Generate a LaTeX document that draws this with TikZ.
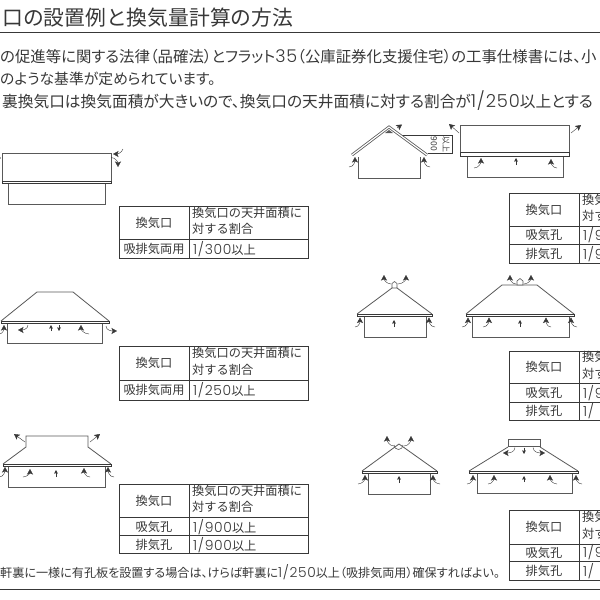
\documentclass[tikz,border=0pt]{standalone}
\usepackage{fontspec}
\setmainfont{Noto Sans CJK JP}
\newfontfamily\tightcjk{Noto Sans CJK JP}[RawFeature=+palt]
\newfontfamily\dgfont{Poppins Light}[Scale=1.14,LetterSpace=5]
\newcommand{\dg}[1]{{\dgfont #1}}
\usetikzlibrary{arrows.meta}
\definecolor{ink}{gray}{0.22}
\definecolor{lin}{gray}{0.35}
\tikzset{
 x=1pt,y=-1pt,
 wall/.style={draw=lin,line width=0.8pt},
 band/.style={draw=ink,line width=0.8pt,fill=white},
 bigflow/.style={draw=ink,line width=0.4pt,-{Stealth[length=5.5pt,width=6pt,inset=1.2pt]}},
 smallflow/.style={draw=ink,line width=0.6pt,-{Stealth[length=3.6pt,width=3.6pt,inset=0.5pt]}},
 cellline/.style={draw=ink,line width=0.8pt},
 cell/.style={inner sep=0,text=ink,font=\fontsize{12.2}{14}\selectfont},
 cellL/.style={cell,anchor=west,align=left},
 body/.style={inner sep=0,anchor=base west,text=ink},
}
\newcommand{\hdr}[4]{%
  \node[cell] at ({(#1+#2)/2},{(#3+#4)/2}) {換気口};
  \node[cellL] at ({#2+3},{(#3+#4)/2}) {\begin{tabular}{@{}l@{}}換気口の天井面積に\\[2pt]対する割合\end{tabular}};
}
\newcommand{\hdrcut}[4]{%
  \node[cell] at ({(#1+#2)/2},{(#3+#4)/2}) {換気口};
  \node[cellL] at ({#2+3},{(#3+#4)/2}) {\begin{tabular}{@{}l@{}}換気\\[2pt]対す\end{tabular}};
}
\begin{document}
\begin{tikzpicture}
\useasboundingbox (0,0) rectangle (600,600);
\clip (0,0) rectangle (600,600);
\fill[white] (0,0) rectangle (600,600);
% heading
\node[inner sep=0,anchor=base west,text=ink,font=\fontsize{20.8}{24}\selectfont] (title) at (2,25) {口の設置例と換気量計算の方法};
\draw[draw=ink,line width=0.8pt] (0,32) -- (600,32);
\node[body,font=\tightcjk\fontsize{15.4}{15}\selectfont] (p1) at (0,62) {の促進等に関する法律（品確法）とフラット\dg{35}（公庫証券化支援住宅）の工事仕様書には、小};
\node[body,font=\tightcjk\fontsize{14.8}{15}\selectfont] (p2) at (0,84) {のような基準が定められています。};
\node[body,font=\tightcjk\fontsize{15.7}{15}\selectfont] (p3) at (2,107) {裏換気口は換気面積が大きいので、換気口の天井面積に対する割合が\dg{1/250}以上とする};
\node[body,font=\tightcjk\fontsize{12.1}{13}\selectfont] (foot) at (0,577.5) {軒裏に一様に有孔板を設置する場合は、けらば軒裏に\dg{1/250}以上（吸排気両用）確保すればよい。};
\draw[draw=ink,line width=0.8pt] (0,589) -- (600,589);

% ---- diagram 1
\draw[wall] (8.5,183) rectangle (105,204);
\draw[wall] (2,153) rectangle (111,181);
\draw[band] (2,181) rectangle (111,183.5);
\draw[bigflow] (123,149) to[out=-110,in=0] (113,154);
\draw[bigflow] (111,157.5) to[out=0,in=90] (118,167);
\draw[bigflow] (-3,160) to[out=0,in=180] (1,158);
% table 1
\draw[cellline] (119,206) rectangle (308,258);
\draw[cellline] (189,206) -- (189,258) (119,239) -- (308,239);
\hdr{119}{189}{206}{239}
\node[cell] at (154,249) {吸排気両用};
\node[cellL] at (193,249) {\dg{1/300}以上};

% ---- diagram 2 hip
\draw[wall] (7,323) rectangle (102,343);
\draw[wall] (1,321) -- (37,292) -- (73,292) -- (109,321);
\draw[band] (1,321) rectangle (109,323.5);
\draw[bigflow] (-1,334) to[out=0,in=-90] (4,325);
\draw[bigflow] (28,325) to[out=-90,in=0] (18,330);
\draw[smallflow] (51,331) -- (51,325);
\draw[smallflow] (59,325) -- (59,331);
\draw[bigflow] (89,334) to[out=180,in=-90] (81,325);
\draw[bigflow] (106,326) to[out=-90,in=180] (117,331);
\draw[cellline] (119,346) rectangle (308,400);
\draw[cellline] (189,346) -- (189,400) (119,380) -- (308,380);
\hdr{119}{189}{346}{380}
\node[cell] at (154,390) {吸排気両用};
\node[cellL] at (193,390) {\dg{1/250}以上};

% ---- diagram 3 cupola
\draw[wall] (8,466) rectangle (105,487);
\draw[wall] (3,464) -- (26,447) -- (26,436) -- (88,436) -- (88,447) -- (111,464);
\draw[band] (3,464) rectangle (111,466.5);
\draw[bigflow] (25,442) -- (14,434);
\draw[bigflow] (90,442) -- (100,434);
\draw[bigflow] (-1,477) to[out=0,in=-90] (5,467);
\draw[bigflow] (23,477) to[out=0,in=-90] (30,469);
\draw[smallflow] (56,477) -- (56,470);
\draw[bigflow] (90,477) to[out=180,in=-90] (84,468);
\draw[bigflow] (114,477) to[out=180,in=-90] (108,467);
\draw[cellline] (119,484) rectangle (308,553);
\draw[cellline] (189,484) -- (189,553) (119,517) -- (308,517) (119,535) -- (308,535);
\hdr{119}{189}{484}{517}
\node[cell] at (154,527) {吸気孔};
\node[cellL] at (193,527) {\dg{1/900}以上};
\node[cell] at (154,545) {排気孔};
\node[cellL] at (193,545) {\dg{1/900}以上};

% ---- house A
\draw[wall] (358,157) -- (358,178) -- (420,178) -- (420,157);
\draw[draw=ink,line width=0.5pt] (402,135) -- (452,135) -- (452,153) -- (428,153);
\draw[draw=lin,line width=2.8pt,line join=miter] (352,155) -- (389,127) -- (427,155);
\draw[draw=white,line width=1.2pt,line join=miter] (352,155) -- (389,127) -- (427,155);
\fill[lin] (385,133) -- (389,130) -- (393,133) -- cycle;
\node[inner sep=0,rotate=-90,text=ink,font=\fontsize{8}{8}\selectfont] (limit) at (446,144) {以上};
\node[inner sep=0,rotate=-90,text=ink,font=\fontsize{8.5}{8}\selectfont] (height) at (434,144) {900};
\draw[bigflow] (397,128) -- (402,124.5);
\draw[bigflow] (349,167) to[out=0,in=-90] (355,157);
\draw[bigflow] (430,167) to[out=180,in=-90] (424,157);
% house B
\draw[wall] (467,156) -- (467,177) -- (563,177) -- (563,156);
\draw[wall] (460,125) rectangle (569,152);
\draw[band] (460,152) rectangle (569,156);
\draw[bigflow] (459,133) -- (449,124);
\draw[bigflow] (571,133) -- (581,125);
\draw[bigflow] (474,168) to[out=0,in=-90] (481,158);
\draw[smallflow] (516,165) -- (516,158);
\draw[bigflow] (557,168) to[out=180,in=-90] (551,159);
\draw[cellline] (509,193) rectangle (610,263);
\draw[cellline] (579,193) -- (579,263) (509,226) -- (610,226) (509,244) -- (610,244);
\hdrcut{509}{579}{193}{226}
\node[cell] at (544,235) {吸気孔};
\node[cellL] at (583,235) {\dg{1/9}};
\node[cell] at (544,254) {排気孔};
\node[cellL] at (583,254) {\dg{1/9}};

% ---- house C
\draw[wall] (364,316) rectangle (426,337);
\draw[wall] (357,314) -- (392,288) (397,288) -- (432,314);
\draw[wall,line width=0.6pt] (392,288) -- (392,283.5) -- (394.5,281.5) -- (397,283.5) -- (397,288) -- cycle;
\draw[band] (357,314) rectangle (432,316.5);
\draw[bigflow] (391,284) to[out=180,in=-90] (384,275);
\draw[bigflow] (398,284) to[out=0,in=-90] (406,275);
\draw[bigflow] (355,327) to[out=0,in=-90] (360,317.5);
\draw[smallflow] (394,327) -- (394,320);
\draw[bigflow] (435,327) to[out=180,in=-90] (429,317.5);
% house D
\draw[wall] (472,316) rectangle (569,337);
\draw[wall] (466,314) -- (502,285) -- (537,285) -- (574,314);
\draw[wall,line width=0.6pt,fill=white] (517,285) -- (517,281) -- (520,278.5) -- (523,281) -- (523,285) -- cycle;
\draw[band] (466,314) rectangle (574,316.5);
\draw[bigflow] (516,284) to[out=180,in=-90] (510,275);
\draw[bigflow] (524,284) to[out=0,in=-90] (531,275);
\draw[bigflow] (462,327) to[out=0,in=-90] (468,317.5);
\draw[bigflow] (483,327) to[out=0,in=-90] (489,317.5);
\draw[smallflow] (520,327) -- (520,320);
\draw[bigflow] (551,327) to[out=180,in=-90] (546,317.5);
\draw[bigflow] (577,327) to[out=180,in=-90] (571,317.5);
\draw[cellline] (509,351) rectangle (610,420);
\draw[cellline] (579,351) -- (579,420) (509,383) -- (610,383) (509,402) -- (610,402);
\hdrcut{509}{579}{351}{383}
\node[cell] at (544,393) {吸気孔};
\node[cellL] at (583,393) {\dg{1/9}};
\node[cell] at (544,411) {排気孔};
\node[cellL] at (583,411) {\dg{1/}};

% ---- house E
\draw[wall] (368,473) rectangle (430,494);
\draw[wall] (362,471) -- (399,444) -- (437,471);
\draw[wall,line width=0.6pt] (394,445) arc[start angle=180,end angle=0,radius=4.5];
\draw[band] (362,471) rectangle (437,473.5);
\draw[bigflow] (394,446) to[out=180,in=-90] (387,436);
\draw[bigflow] (404,446) to[out=0,in=-90] (411,436);
\draw[bigflow] (358,484) to[out=0,in=-90] (365,475);
\draw[smallflow] (399,483) -- (399,476);
\draw[bigflow] (440,484) to[out=180,in=-90] (433,475);
% house F
\draw[wall] (477,473) rectangle (572,493);
\draw[wall] (469,471) -- (508,447) (540,447) -- (578,471);
\draw[wall,line width=0.6pt] (508,439) rectangle (540,446.5);
\draw[bigflow] (515,447.5) to[out=-90,in=0] (503,453);
\draw[smallflow] (524,447.5) -- (524,454);
\draw[bigflow] (533,447.5) to[out=-90,in=180] (545,453);
\draw[band] (469,471) rectangle (578,473.5);
\draw[bigflow] (467,484) to[out=0,in=-90] (473,475);
\draw[bigflow] (488,484) to[out=0,in=-90] (494,475);
\draw[smallflow] (524,482) -- (524,476);
\draw[bigflow] (557,484) to[out=180,in=-90] (550,475);
\draw[bigflow] (582,484) to[out=180,in=-90] (576,475);
\draw[cellline] (509,510) rectangle (610,580);
\draw[cellline] (579,510) -- (579,580) (509,544) -- (610,544) (509,561) -- (610,561);
\hdrcut{509}{579}{510}{544}
\node[cell] at (544,552.5) {吸気孔};
\node[cellL] at (583,552.5) {\dg{1/9}};
\node[cell] at (544,571) {排気孔};
\node[cellL] at (583,571) {\dg{1/}};
\end{tikzpicture}
\end{document}
